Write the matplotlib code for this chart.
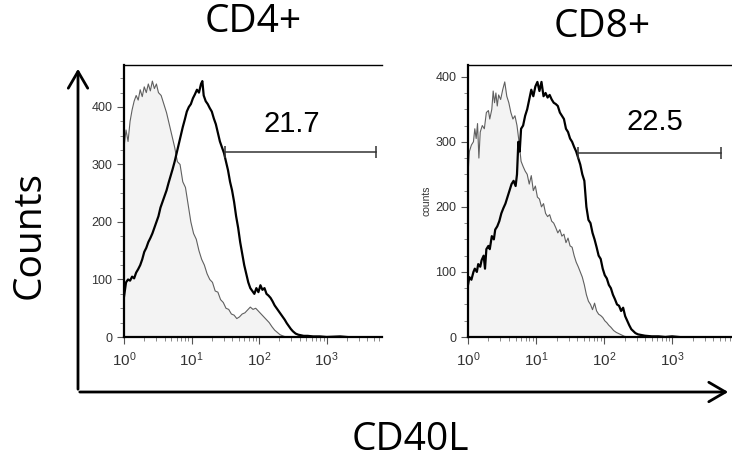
import numpy as np
import matplotlib

matplotlib.use("Agg")
import matplotlib.pyplot as plt  # noqa: E402
from matplotlib.ticker import LogLocator, MultipleLocator, NullFormatter  # noqa: E402

# CD4+ panel: log10 fluorescence and counts
cd4_iso_log = [0.0, 0.03, 0.06, 0.09, 0.12, 0.15, 0.18, 0.21, 0.24, 0.27, 0.30, 0.33, 0.36, 0.39,
               0.42, 0.45, 0.48, 0.51, 0.55, 0.59, 0.63, 0.67, 0.71, 0.75, 0.79, 0.83, 0.87, 0.91,
               0.95, 0.99, 1.03, 1.07, 1.11, 1.15, 1.19, 1.23, 1.27, 1.31, 1.35, 1.39, 1.43, 1.47,
               1.51, 1.55, 1.59, 1.63, 1.67, 1.71, 1.75, 1.79, 1.83, 1.87, 1.91, 1.95, 1.99, 2.03,
               2.07, 2.11, 2.15, 2.19, 2.23, 2.27, 2.31, 2.35, 2.40, 3.3]
cd4_iso_counts = [330, 360, 340, 375, 395, 410, 420, 412, 430, 418, 435, 425, 440, 428,
                  445, 432, 440, 425, 420, 405, 390, 370, 350, 330, 305, 300, 270, 260,
                  230, 200, 180, 170, 150, 135, 125, 110, 100, 95, 80, 78, 65, 60,
                  50, 48, 40, 38, 32, 35, 40, 42, 47, 52, 48, 50, 45, 40,
                  35, 30, 25, 18, 12, 8, 4, 2, 0, 0]
cd4_stain_log = [0.0, 0.03, 0.06, 0.09, 0.12, 0.15, 0.18, 0.21, 0.24, 0.27, 0.30, 0.33, 0.36, 0.39,
                 0.42, 0.45, 0.48, 0.51, 0.54, 0.57, 0.60, 0.63, 0.66, 0.69, 0.72, 0.75, 0.78, 0.81,
                 0.84, 0.87, 0.90, 0.93, 0.96, 0.99, 1.02, 1.05, 1.08, 1.11, 1.14, 1.16, 1.18, 1.21,
                 1.24, 1.27, 1.30, 1.33, 1.36, 1.39, 1.42, 1.45, 1.48, 1.51, 1.54, 1.57, 1.60, 1.63,
                 1.66, 1.69, 1.72, 1.75, 1.78, 1.81, 1.84, 1.87, 1.90, 1.93, 1.96, 1.99, 2.02, 2.05,
                 2.08, 2.11, 2.14, 2.17, 2.20, 2.23, 2.26, 2.29, 2.32, 2.35, 2.38, 2.41, 2.44, 2.47,
                 2.50, 2.54, 2.58, 2.62, 2.66, 2.72, 2.80, 2.90, 3.00, 3.20, 3.30]
cd4_stain_counts = [70, 95, 100, 98, 105, 102, 112, 118, 125, 135, 148, 155, 165, 172,
                    180, 190, 200, 210, 225, 235, 245, 255, 268, 280, 292, 305, 320, 335,
                    350, 365, 378, 392, 400, 405, 415, 422, 430, 425, 440, 445, 420, 410,
                    405, 398, 392, 380, 370, 355, 340, 330, 320, 305, 290, 270, 255, 235,
                    210, 190, 165, 145, 125, 110, 95, 85, 80, 75, 85, 78, 90, 82,
                    85, 75, 72, 68, 62, 55, 50, 45, 40, 35, 30, 24, 19, 14,
                    10, 6, 4, 3, 2, 2, 1, 1, 0, 1, 0]

# CD8+ panel
cd8_iso_log = [0.0, 0.02, 0.05, 0.08, 0.10, 0.12, 0.14, 0.16, 0.18, 0.21, 0.24, 0.27, 0.30, 0.32,
               0.35, 0.37, 0.39, 0.41, 0.43, 0.45, 0.48, 0.51, 0.54, 0.57, 0.60, 0.63, 0.66, 0.69,
               0.72, 0.75, 0.78, 0.81, 0.84, 0.87, 0.90, 0.93, 0.96, 0.99, 1.02, 1.05, 1.08, 1.11,
               1.14, 1.17, 1.20, 1.23, 1.26, 1.29, 1.32, 1.35, 1.38, 1.41, 1.44, 1.47, 1.50, 1.53,
               1.56, 1.59, 1.62, 1.65, 1.68, 1.71, 1.74, 1.77, 1.80, 1.83, 1.86, 1.89, 1.92, 1.95,
               1.98, 2.01, 2.04, 2.07, 2.10, 2.14, 2.18, 2.22, 2.26, 2.30, 2.35, 3.3]
cd8_iso_counts = [250, 285, 295, 300, 320, 305, 328, 275, 315, 325, 320, 345, 348, 335,
                  350, 378, 360, 375, 355, 372, 365, 380, 392, 370, 360, 345, 335, 340,
                  325, 300, 270, 262, 255, 250, 235, 248, 225, 232, 215, 212, 200, 205,
                  190, 185, 188, 178, 175, 168, 160, 165, 155, 158, 145, 152, 140, 138,
                  125, 115, 108, 100, 92, 80, 65, 55, 50, 42, 52, 40, 35, 33,
                  30, 25, 22, 18, 15, 10, 7, 5, 3, 1, 0, 0]
cd8_stain_log = [0.0, 0.02, 0.05, 0.08, 0.10, 0.13, 0.15, 0.18, 0.20, 0.23, 0.25, 0.27, 0.30, 0.32,
                 0.35, 0.38, 0.40, 0.43, 0.46, 0.49, 0.52, 0.55, 0.58, 0.61, 0.64, 0.67, 0.70, 0.72,
                 0.74, 0.76, 0.78, 0.81, 0.84, 0.87, 0.90, 0.93, 0.96, 0.99, 1.02, 1.05, 1.08, 1.11,
                 1.14, 1.17, 1.20, 1.23, 1.26, 1.29, 1.32, 1.35, 1.38, 1.41, 1.44, 1.47, 1.50, 1.53,
                 1.56, 1.59, 1.62, 1.65, 1.68, 1.71, 1.74, 1.77, 1.80, 1.83, 1.86, 1.89, 1.92, 1.95,
                 1.98, 2.01, 2.04, 2.07, 2.10, 2.13, 2.16, 2.19, 2.22, 2.25, 2.28, 2.31, 2.34, 2.37,
                 2.40, 2.43, 2.46, 2.50, 2.55, 2.60, 2.70, 2.80, 2.90, 3.00, 3.10]
cd8_stain_counts = [80, 92, 88, 100, 105, 100, 112, 108, 118, 125, 105, 135, 140, 135,
                    155, 150, 165, 170, 178, 190, 198, 205, 215, 225, 235, 240, 232, 250,
                    300, 285, 320, 325, 340, 350, 365, 380, 370, 385, 392, 378, 392, 370,
                    375, 368, 372, 365, 360, 358, 355, 345, 340, 335, 320, 315, 305, 300,
                    292, 285, 275, 265, 250, 240, 200, 180, 175, 160, 150, 138, 125, 120,
                    105, 95, 90, 80, 75, 65, 58, 50, 48, 40, 45, 32, 25, 18,
                    12, 9, 6, 4, 3, 2, 1, 1, 0, 1, 0]

panel_titles = ["CD4+", "CD8+"]
gate_labels = ["21.7", "22.5"]
gate_ranges = [(31, 5400), (41, 5300)]
gate_levels = [322, 283]
y_max = [473, 418]
x_max_log = [3.82, 3.88]

TITLE_FONT = ["Open Sans", "DejaVu Sans"]
TICK_FONT = ["Liberation Sans", "DejaVu Sans"]

fig = plt.figure(figsize=(7.32, 4.67), dpi=100)
W, H = 732.0, 467.0


def px_axes(left, top, right, bottom):
    return fig.add_axes([left / W, 1 - bottom / H, (right - left) / W, (bottom - top) / H])


panels = [
    (px_axes(124, 65, 382, 337), cd4_iso_log, cd4_iso_counts, cd4_stain_log, cd4_stain_counts),
    (px_axes(468, 65, 732, 337), cd8_iso_log, cd8_iso_counts, cd8_stain_log, cd8_stain_counts),
]
title_pos = [(253, 22), (602, 27)]

for i, (ax, iso_log, iso_counts, stain_log, stain_counts) in enumerate(panels):
    iso_x = 10 ** np.array(iso_log)
    stain_x = 10 ** np.array(stain_log)
    ax.fill_between(iso_x, iso_counts, 0, color="#f3f3f3", lw=0)
    ax.plot(iso_x, iso_counts, color="#606060", lw=0.8)
    ax.plot(stain_x, stain_counts, color="black", lw=1.6)

    g0, g1 = gate_ranges[i]
    ax.plot([g0, g1], [gate_levels[i]] * 2, color="#333333", lw=1.1)
    ax.plot([g0, g1], [gate_levels[i]] * 2, ls="none", marker="|", ms=8, mew=1.1, color="#333333")
    ax.text(np.sqrt(g0 * g1) * (0.75 if i == 0 else 1.2), gate_levels[i] + 48, gate_labels[i],
            ha="center", va="center", fontsize=21, family=TICK_FONT)

    ax.set_xscale("log")
    ax.set_xlim(1, 10 ** x_max_log[i])
    ax.set_ylim(0, y_max[i])
    ax.xaxis.set_major_locator(LogLocator(base=10, numticks=10))
    ax.xaxis.set_minor_locator(LogLocator(base=10, subs=np.arange(2, 10), numticks=10))
    ax.xaxis.set_minor_formatter(NullFormatter())
    ax.yaxis.set_major_locator(MultipleLocator(100))
    ax.yaxis.set_minor_locator(MultipleLocator(25))

    ax.spines["right"].set_visible(False)
    ax.spines["left"].set_linewidth(1.6)
    ax.spines["bottom"].set_linewidth(1.6)
    ax.spines["top"].set_linewidth(1.0)
    ax.tick_params(which="major", length=5, width=0.8, color="#555555", labelcolor="#333333")
    ax.tick_params(which="minor", length=3, width=0.6, color="#777777")
    ax.tick_params(axis="y", labelsize=9)
    ax.tick_params(axis="x", labelsize=11, pad=5)
    for lab in ax.get_yticklabels() + ax.get_xticklabels():
        lab.set_family(TICK_FONT)

    tx, ty = title_pos[i]
    fig.text(tx / W, 1 - ty / H, panel_titles[i], ha="center", va="center",
             fontsize=28, family=TITLE_FONT)

panels[1][0].set_ylabel("counts", fontsize=7.5, color="#333333", family=TICK_FONT, labelpad=3)

# outer axis arrows
fig.add_artist(matplotlib.patches.FancyArrowPatch(
    (78 / W, 1 - 392 / H), (78 / W, 1 - 66 / H), transform=fig.transFigure,
    arrowstyle="->,head_length=12,head_width=7", lw=2.0, color="black", mutation_scale=1))
fig.add_artist(matplotlib.patches.FancyArrowPatch(
    (77 / W, 1 - 392 / H), (731 / W, 1 - 392 / H), transform=fig.transFigure,
    arrowstyle="->,head_length=12,head_width=7", lw=2.0, color="black", mutation_scale=1))

fig.text(30 / W, 1 - 235 / H, "Counts", rotation=90, ha="center", va="center",
         fontsize=28, family=TITLE_FONT)
fig.text(410 / W, 1 - 440 / H, "CD40L", ha="center", va="center",
         fontsize=28, family=TITLE_FONT)

fig.savefig("out.png", dpi=100)
